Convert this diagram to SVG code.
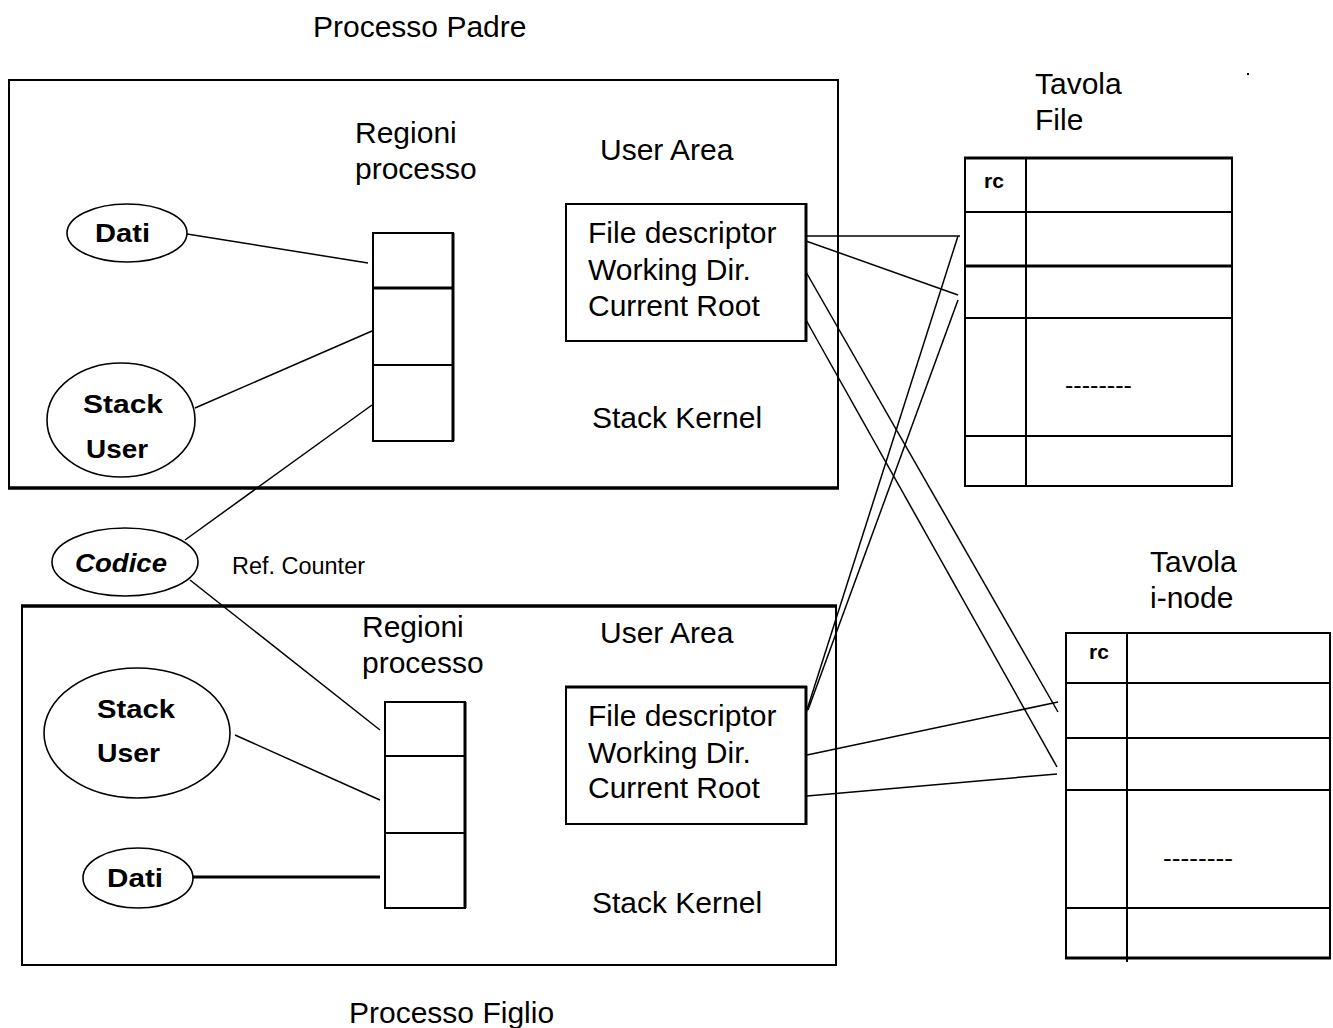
<svg xmlns="http://www.w3.org/2000/svg" width="1333" height="1028" viewBox="0 0 1333 1028">
<style>
.t{font-family:"Liberation Sans",Arial,sans-serif;font-size:30px;fill:#000}
.b{font-family:"Liberation Sans",Arial,sans-serif;font-size:25px;font-weight:bold;fill:#000}
.s{font-family:"Liberation Sans",Arial,sans-serif;font-size:23.5px;fill:#000}
.rc{font-family:"Liberation Sans",Arial,sans-serif;font-size:21px;font-weight:bold;fill:#000}
.box{fill:#fff;stroke:#000;stroke-width:2}
.nb{fill:none;stroke:#000;stroke-width:2}
.ell{fill:#fff;stroke:#000;stroke-width:1.6}
.ln{fill:none;stroke:#000;stroke-width:1.5}
.thk{stroke:#000;stroke-width:3.5}
.th{stroke:#000;stroke-width:2}
</style>
<rect width="1333" height="1028" fill="#fff"/>

<g id="processo-padre">
  <rect class="nb" x="9" y="80" width="829" height="408"/>
  <line class="thk" x1="8" y1="488" x2="839" y2="488"/>
  <text class="t" x="313" y="37">Processo Padre</text>
</g>

<g id="processo-figlio">
  <rect class="nb" x="22" y="606" width="814" height="359"/>
  <line class="thk" x1="21" y1="606" x2="837" y2="606"/>
  <text class="t" x="349" y="1023">Processo Figlio</text>
</g>

<g id="connectors">
  <line class="ln" x1="187" y1="234" x2="368" y2="263"/>
  <line class="ln" x1="195" y1="408" x2="372" y2="331"/>
  <line class="ln" x1="185" y1="540" x2="372" y2="405"/>
  <line class="ln" x1="190" y1="580" x2="380" y2="730"/>
  <line class="ln" x1="235" y1="735" x2="380" y2="800"/>
  <line class="thk" x1="193" y1="877" x2="380" y2="877" style="stroke-width:3"/>
  <line class="ln" x1="806" y1="236" x2="960" y2="236"/>
  <line class="ln" x1="806" y1="713" x2="958" y2="236"/>
  <line class="ln" x1="806" y1="241" x2="958" y2="295"/>
  <line class="ln" x1="808" y1="710" x2="958" y2="300"/>
  <line class="ln" x1="806" y1="272" x2="1058" y2="712"/>
  <line class="ln" x1="806" y1="320" x2="1057" y2="767"/>
  <line class="ln" x1="807" y1="755" x2="1058" y2="702"/>
  <line class="ln" x1="807" y1="796" x2="1057" y2="774"/>
</g>

<g id="dati-padre">
  <ellipse class="ell" cx="127" cy="233" rx="60" ry="29"/>
  <text class="b" x="95" y="242" textLength="55" lengthAdjust="spacingAndGlyphs">Dati</text>
</g>

<g id="stack-user-padre">
  <ellipse class="ell" cx="121" cy="420" rx="74" ry="57"/>
  <text class="b" x="83" y="413" textLength="80" lengthAdjust="spacingAndGlyphs">Stack</text>
  <text class="b" x="86" y="458" textLength="62" lengthAdjust="spacingAndGlyphs">User</text>
</g>

<g id="regioni-padre">
  <text class="t" x="355" y="143">Regioni</text>
  <text class="t" x="355" y="179">processo</text>
  <rect class="box" x="373" y="233" width="80" height="208"/>
  <line class="thk" x1="373" y1="288" x2="453" y2="288" style="stroke-width:3"/>
  <line class="th" x1="373" y1="365" x2="453" y2="365"/>
  <line class="thk" x1="453" y1="233" x2="453" y2="441" style="stroke-width:3"/>
</g>

<g id="user-area-padre">
  <text class="t" x="600" y="160">User Area</text>
  <rect class="box" x="566" y="204" width="240" height="137"/>
  <line class="thk" x1="806" y1="203" x2="806" y2="342" style="stroke-width:3"/>
  <text class="t" x="588" y="243">File descriptor</text>
  <text class="t" x="588" y="280">Working Dir.</text>
  <text class="t" x="588" y="316">Current Root</text>
  <text class="t" x="592" y="428">Stack Kernel</text>
</g>

<g id="codice">
  <ellipse class="ell" cx="125" cy="562" rx="73" ry="34"/>
  <text class="b" x="75" y="572" textLength="92" lengthAdjust="spacingAndGlyphs" font-style="italic">Codice</text>
  <text class="s" x="232" y="574" textLength="133" lengthAdjust="spacingAndGlyphs">Ref. Counter</text>
</g>

<g id="regioni-figlio">
  <text class="t" x="362" y="637">Regioni</text>
  <text class="t" x="362" y="673">processo</text>
  <rect class="box" x="385" y="702" width="80" height="206"/>
  <line class="th" x1="385" y1="756" x2="465" y2="756"/>
  <line class="th" x1="385" y1="833" x2="465" y2="833"/>
  <line class="thk" x1="465" y1="702" x2="465" y2="908" style="stroke-width:3"/>
</g>

<g id="stack-user-figlio">
  <ellipse class="ell" cx="137" cy="733" rx="93" ry="65"/>
  <text class="b" x="97" y="718" textLength="78" lengthAdjust="spacingAndGlyphs">Stack</text>
  <text class="b" x="97" y="762" textLength="63" lengthAdjust="spacingAndGlyphs">User</text>
</g>

<g id="dati-figlio">
  <ellipse class="ell" cx="138" cy="878" rx="55" ry="30"/>
  <text class="b" x="107" y="887" textLength="56" lengthAdjust="spacingAndGlyphs">Dati</text>
</g>

<g id="user-area-figlio">
  <text class="t" x="600" y="643">User Area</text>
  <rect class="box" x="566" y="687" width="240" height="137"/>
  <line class="thk" x1="565" y1="687" x2="807" y2="687" style="stroke-width:3"/>
  <line class="thk" x1="806" y1="686" x2="806" y2="825" style="stroke-width:3"/>
  <text class="t" x="588" y="726">File descriptor</text>
  <text class="t" x="588" y="763">Working Dir.</text>
  <text class="t" x="588" y="798">Current Root</text>
  <text class="t" x="592" y="913">Stack Kernel</text>
</g>

<g id="tavola-file">
  <text class="t" x="1035" y="94">Tavola</text>
  <text class="t" x="1035" y="130">File</text>
  <rect class="box" x="965" y="158" width="267" height="328"/>
  <line class="thk" x1="964" y1="158" x2="1233" y2="158" style="stroke-width:3"/>
  <line class="th" x1="1026" y1="158" x2="1026" y2="486"/>
  <line class="th" x1="965" y1="212" x2="1232" y2="212"/>
  <line class="thk" x1="965" y1="266" x2="1232" y2="266" style="stroke-width:3"/>
  <line class="th" x1="965" y1="318" x2="1232" y2="318"/>
  <line class="th" x1="965" y1="436" x2="1232" y2="436"/>
  <text class="rc" x="984" y="188">rc</text>
  <text class="s" x="1065" y="393" textLength="67" lengthAdjust="spacingAndGlyphs">--------</text>
</g>

<g id="tavola-inode">
  <text class="t" x="1150" y="572">Tavola</text>
  <text class="t" x="1150" y="608">i-node</text>
  <rect class="box" x="1066" y="633" width="264" height="325"/>
  <line class="thk" x1="1065" y1="958" x2="1331" y2="958" style="stroke-width:3"/>
  <line class="th" x1="1127" y1="633" x2="1127" y2="962"/>
  <line class="th" x1="1066" y1="683" x2="1330" y2="683"/>
  <line class="th" x1="1066" y1="738" x2="1330" y2="738"/>
  <line class="th" x1="1066" y1="790" x2="1330" y2="790"/>
  <line class="th" x1="1066" y1="908" x2="1330" y2="908"/>
  <text class="rc" x="1089" y="659">rc</text>
  <text class="s" x="1163" y="866" textLength="70" lengthAdjust="spacingAndGlyphs">--------</text>
</g>

<rect x="1247" y="73" width="2" height="2" fill="#000"/>
</svg>
